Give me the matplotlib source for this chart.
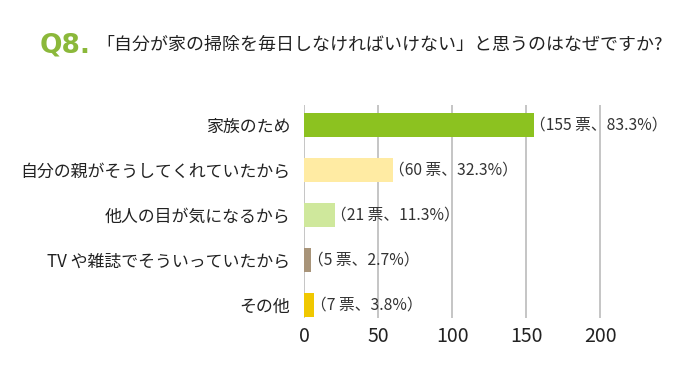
import matplotlib.pyplot as plt

plt.rcParams['font.family'] = ['Noto Sans CJK JP', 'DejaVu Sans']

# data
labels = ['家族のため', '自分の親がそうしてくれていたから', '他人の目が気になるから',
          'TV や雑誌でそういっていたから', 'その他']
votes = [155, 60, 21, 5, 7]
percents = [83.3, 32.3, 11.3, 2.7, 3.8]
colors = ['#8CC220', '#FFEBA3', '#CFE89C', '#A89479', '#F0C800']
ticks = [0, 50, 100, 150, 200]

fig = plt.figure(figsize=(6.8, 3.79), dpi=100)
ax = fig.add_axes([0.447, 0.161, 0.523, 0.562])

ypos = range(len(labels))
ax.barh(ypos, votes, height=0.52, color=colors, zorder=3)
for y, v, p in zip(ypos, votes, percents):
    ax.text(v - 2.5, y, f'（{v} 票、{p}%）', va='center', ha='left',
            fontsize=11.3, color='#333333', zorder=4)

ax.set_xlim(0, 240)
ax.set_ylim(4.29, -0.44)
ax.set_yticks(list(ypos))
ax.set_yticklabels(labels, fontsize=12.2, color='#222222')
ax.set_xticks(ticks)
ax.set_xticklabels([str(t) for t in ticks], fontsize=14, color='#222222')
ax.tick_params(length=0, pad=6)
ax.tick_params(axis='y', pad=10)
ax.grid(axis='x', color='#C0C0C0', linewidth=1.3, zorder=0)
for s in ax.spines.values():
    s.set_visible(False)

fig.text(0.058, 0.862, 'Q8.', fontsize=19, fontweight='bold', color='#8BB83A',
         va='baseline', family=['DejaVu Sans'])
fig.text(0.141, 0.868, '「自分が家の掃除を毎日しなければいけない」と思うのはなぜですか?',
         fontsize=12.95, color='#222222', va='baseline')

fig.savefig('out.png', dpi=100, facecolor='white')
